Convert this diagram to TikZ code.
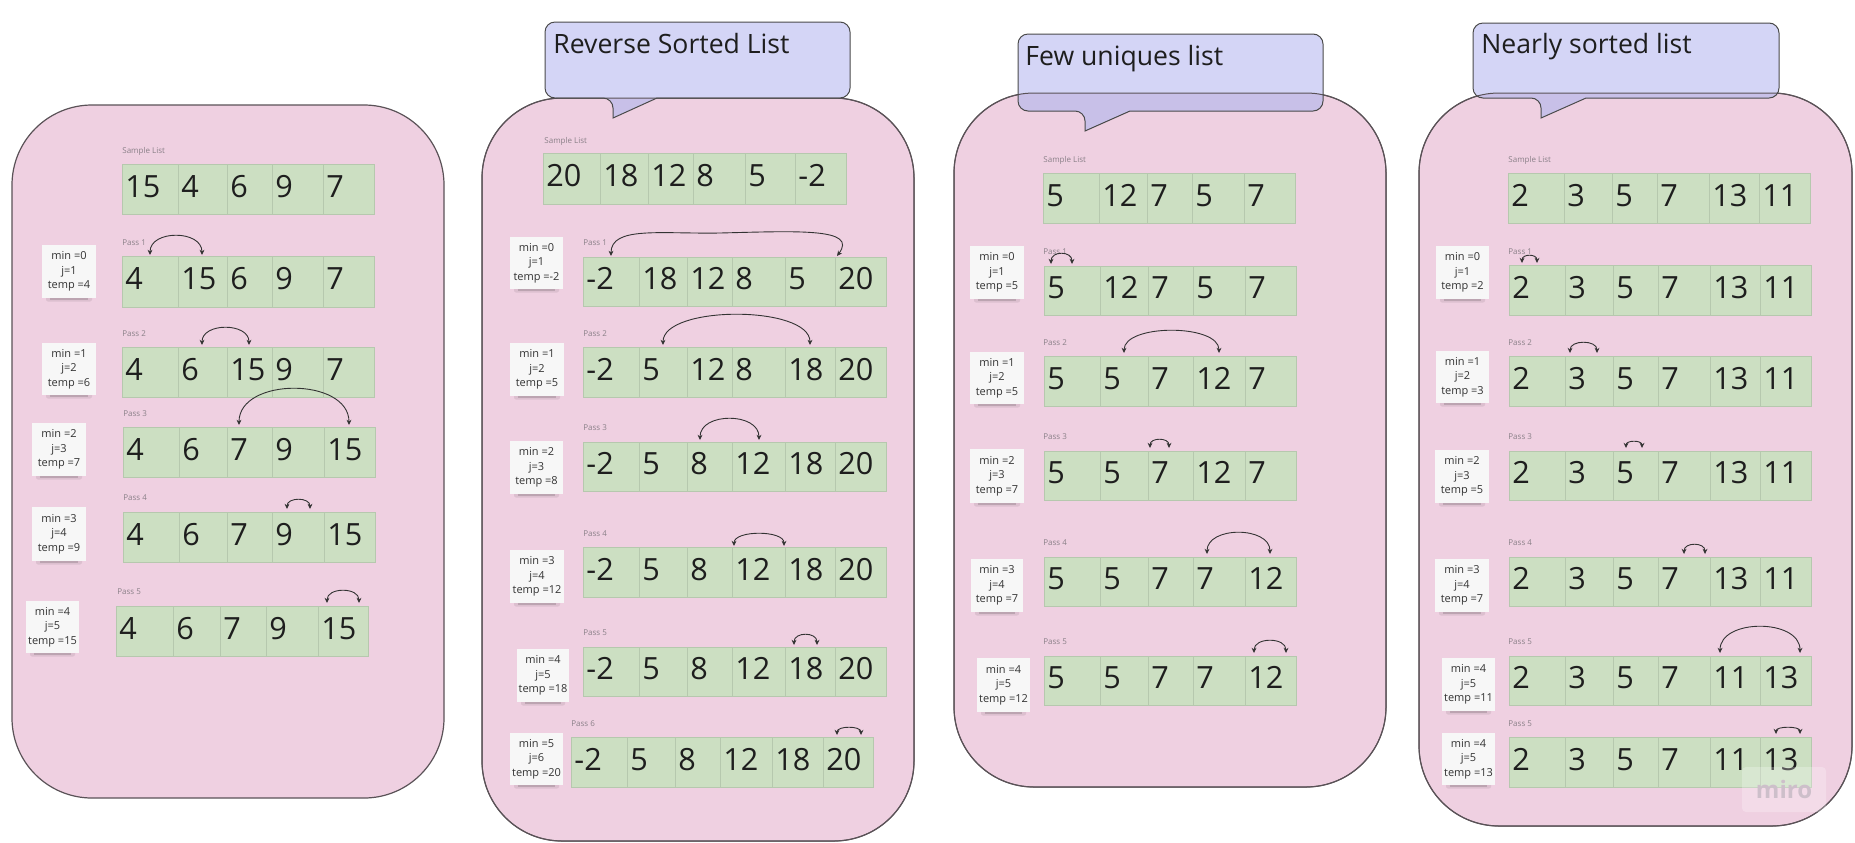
\documentclass[tikz,border=0pt]{standalone}
\usepackage{fontspec}
\setmainfont{Open Sans}
\usetikzlibrary{arrows.meta,calc}
\definecolor{panelpink}{HTML}{EFD0E1}
\definecolor{panelline}{HTML}{5A5257}
\definecolor{cellgreen}{HTML}{CCDFC2}
\definecolor{cellline}{HTML}{B6C8AE}
\definecolor{numtext}{HTML}{1E1E1E}
\definecolor{lblgray}{HTML}{8A8088}
\definecolor{stickybg}{HTML}{F7F7F7}
\definecolor{stickytext}{HTML}{333333}
\definecolor{arrowc}{HTML}{333333}
\definecolor{callfill}{HTML}{D4D5F6}
\definecolor{callover}{HTML}{C8C0E8}
\definecolor{callline}{HTML}{4A4A4A}
\definecolor{mirogray}{HTML}{CDBFCA}
\tikzset{
  panel/.style={fill=panelpink, draw=panelline, line width=0.6pt, rounded corners=40pt},
  panelborder/.style={draw=panelline, line width=0.5pt, rounded corners=40pt},
  cellbox/.style={fill=cellgreen, draw=cellline, line width=0.4pt},
  num/.style={anchor=base west, inner sep=0pt, font=\fontsize{15.3}{17}\selectfont, text=numtext},
  passlbl/.style={anchor=west, inner sep=0pt, font=\fontsize{4}{5}\selectfont, text=lblgray},
  stickytxt/.style={align=center, inner sep=0pt, font=\fontsize{5.5}{7.2}\selectfont, text=stickytext},
  swp/.style={<->, >={Stealth[length=2.6pt,width=2.4pt]}, draw=arrowc, line width=0.45pt},
  titletxt/.style={anchor=base west, inner sep=0pt, font=\fontsize{13.3}{15}\selectfont, text=numtext},
}
\newcommand\cellrow[4]{%
  \foreach \xa/\xb/\v [count=\i] in {#4}{%
    \path[cellbox] (\xa,#2) rectangle (\xb,#3);
    \node[num] (#1-\i) at (\xa+3,{(#2+#3)/2+8}) {\v};
  }}
\newcommand\passlabel[4]{\node[passlbl] (#1) at (#2,#3) {#4};}
\newcommand\stickynote[6]{%
  \fill[black,opacity=.08,rounded corners=1pt] (#2+4,#5-3) rectangle (#4-4,#5+3.5);
  \fill[black,opacity=.14] (#2+8,#5-1) rectangle (#4-8,#5+2);
  \fill[stickybg] (#2,#3) rectangle (#4,#5);
  \node[stickytxt] (#1) at ({(#2+#4)/2},{(#3+#5)/2}) {#6};}
\newcommand\swap[5]{%
  \coordinate (#1a) at (#2,#4); \coordinate (#1b) at (#3,#4);
  \draw[swp] (#1a) .. controls +(0,{-(#4-#5)*4/3}) and +(0,{-(#4-#5)*4/3}) .. (#1b);}
\newcommand\callout[8]{%
  \fill[callfill] (#6,#4) [rounded corners=5pt] -- (#3,#4) -- (#3,#2) -- (#1,#2) -- (#1,#4) -- (#5,#4) [sharp corners] -- (#5,#7) -- cycle;
  \begin{scope}
    \clip[rounded corners=40pt] #8;
    \fill[callover] (#6,#4) [rounded corners=5pt] -- (#3,#4) -- (#3,#2) -- (#1,#2) -- (#1,#4) -- (#5,#4) [sharp corners] -- (#5,#7) -- cycle;
  \end{scope}
  \path[panelborder] #8;
  \draw[callline, line width=0.5pt] (#6,#4) [rounded corners=5pt] -- (#3,#4) -- (#3,#2) -- (#1,#2) -- (#1,#4) -- (#5,#4) [sharp corners] -- (#5,#7) -- cycle;}
\begin{document}
\begin{tikzpicture}[x=0.5pt,y=-0.5pt]
\useasboundingbox[fill=white] (0,0) rectangle (1855,842);

% ---------------- Panel 1 ----------------
\path[panel] (12,105) rectangle (444,798);
\passlabel{p1sl}{122}{151}{Sample List}
\cellrow{p1s}{164}{214}{122/178/15,178/227/4,227/272/6,272/323/9,323/374/7}
\passlabel{p1l1}{122}{243}{Pass 1}
\cellrow{p1r1}{256}{307}{122/178/4,178/227/15,227/272/6,272/323/9,323/374/7}
\swap{p1w1}{150}{202}{255}{236}
\stickynote{p1n1}{42}{245}{96}{298}{min =0\\j=1\\temp =4}
\passlabel{p1l2}{122}{334}{Pass 2}
\cellrow{p1r2}{347}{397}{122/178/4,178/227/6,227/272/15,272/323/9,323/374/7}
\swap{p1w2}{202}{249}{345}{328}
\stickynote{p1n2}{42}{343}{96}{395}{min =1\\j=2\\temp =6}
\passlabel{p1l3}{123}{414}{Pass 3}
\cellrow{p1r3}{427}{477}{123/179/4,179/227/6,227/272/7,272/324/9,324/375/15}
\swap{p1w3}{239}{349}{425}{389}
\stickynote{p1n3}{32}{423}{86}{476}{min =2\\j=3\\temp =7}
\passlabel{p1l4}{123}{498}{Pass 4}
\cellrow{p1r4}{512}{562}{123/179/4,179/227/6,227/272/7,272/324/9,324/375/15}
\swap{p1w4}{287}{310}{509}{500}
\stickynote{p1n4}{32}{507}{86}{561}{min =3\\j=4\\temp =9}
\passlabel{p1l5}{117}{592}{Pass 5}
\cellrow{p1r5}{606}{656}{116/173/4,173/220/6,220/266/7,266/318/9,318/368/15}
\swap{p1w5}{327}{359}{603}{591}
\stickynote{p1n5}{26}{601}{79}{653}{min =4\\j=5\\temp =15}

% ---------------- Panel 2 ----------------
\path[panel] (482,98) rectangle (914,841);
\callout{545}{22}{850}{98}{613}{657}{118}{(482,98) rectangle (914,841)}
\node[titletxt] (t2) at (553,53) {Reverse Sorted List};
\passlabel{p2sl}{544}{141}{Sample List}
\cellrow{p2s}{153}{204}{543/600/20,600/648/18,648/693/12,693/745/8,745/795/5,795/846/-2}
\passlabel{p2l1}{583}{243}{Pass 1}
\cellrow{p2r1}{257}{306}{583/639/-2,639/687/18,687/732/12,732/785/8,785/835/5,835/886/20}
\coordinate (p2w1a) at (611,256); \coordinate (p2w1b) at (837,256);
\draw[swp] (p2w1a) .. controls (611,226) and (660,234) .. (720,233) .. controls (800,231) and (858,228) .. (p2w1b);
\stickynote{p2n1}{510}{237}{563}{289}{min =0\\j=1\\temp =-2}
\passlabel{p2l2}{583}{334}{Pass 2}
\cellrow{p2r2}{347}{397}{583/639/-2,639/687/5,687/732/12,732/785/8,785/835/18,835/886/20}
\swap{p2w2}{663}{810}{345}{315}
\stickynote{p2n2}{510}{343}{564}{396}{min =1\\j=2\\temp =5}
\passlabel{p2l3}{583}{428}{Pass 3}
\cellrow{p2r3}{442}{491}{583/639/-2,639/687/5,687/732/8,732/785/12,785/835/18,835/886/20}
\swap{p2w3}{700}{759}{440}{419}
\stickynote{p2n3}{510}{441}{563}{494}{min =2\\j=3\\temp =8}
\passlabel{p2l4}{583}{534}{Pass 4}
\cellrow{p2r4}{547}{597}{583/639/-2,639/687/5,687/732/8,732/785/12,785/835/18,835/886/20}
\swap{p2w4}{734}{784}{546}{534}
\stickynote{p2n4}{510}{550}{564}{603}{min =3\\j=4\\temp =12}
\passlabel{p2l5}{583}{633}{Pass 5}
\cellrow{p2r5}{647}{696}{583/639/-2,639/687/5,687/732/8,732/785/12,785/835/18,835/886/20}
\swap{p2w5}{794}{817}{645}{635}
\stickynote{p2n5}{517}{649}{569}{702}{min =4\\j=5\\temp =18}
\passlabel{p2l6}{571}{724}{Pass 6}
\cellrow{p2r6}{737}{787}{571/627/-2,627/675/5,675/720/8,720/772/12,772/823/18,823/873/20}
\swap{p2w6}{837}{861}{735}{728}
\stickynote{p2n6}{510}{733}{563}{785}{min =5\\j=6\\temp =20}

% ---------------- Panel 3 ----------------
\path[panel] (954,93) rectangle (1386,787);
\callout{1018}{34}{1323}{111}{1085}{1130}{131}{(954,93) rectangle (1386,787)}
\node[titletxt] (t3) at (1025,65) {Few uniques list};
\passlabel{p3sl}{1043}{160}{Sample List}
\cellrow{p3s}{173}{223}{1043/1099/5,1099/1147/12,1147/1192/7,1192/1244/5,1244/1295/7}
\passlabel{p3l1}{1043}{252}{Pass 1}
\cellrow{p3r1}{266}{315}{1044/1100/5,1100/1148/12,1148/1193/7,1193/1245/5,1245/1296/7}
\swap{p3w1}{1051}{1072}{264}{254}
\stickynote{p3n1}{970}{246}{1024}{299}{min =0\\j=1\\temp =5}
\passlabel{p3l2}{1043}{343}{Pass 2}
\cellrow{p3r2}{356}{406}{1044/1100/5,1100/1148/5,1148/1193/7,1193/1245/12,1245/1296/7}
\swap{p3w2}{1124}{1219}{353}{331}
\stickynote{p3n2}{970}{352}{1024}{404}{min =1\\j=2\\temp =5}
\passlabel{p3l3}{1043}{437}{Pass 3}
\cellrow{p3r3}{451}{500}{1044/1100/5,1100/1148/5,1148/1193/7,1193/1245/12,1245/1296/7}
\swap{p3w3}{1150}{1169}{448}{440}
\stickynote{p3n3}{970}{449}{1024}{503}{min =2\\j=3\\temp =7}
\passlabel{p3l4}{1043}{543}{Pass 4}
\cellrow{p3r4}{557}{606}{1044/1100/5,1100/1148/5,1148/1193/7,1193/1245/7,1245/1296/12}
\swap{p3w4}{1207}{1270}{554}{533}
\stickynote{p3n4}{971}{559}{1023}{612}{min =3\\j=4\\temp =7}
\passlabel{p3l5}{1043}{642}{Pass 5}
\cellrow{p3r5}{656}{705}{1044/1100/5,1100/1148/5,1148/1193/7,1193/1245/7,1245/1296/12}
\swap{p3w5}{1254}{1286}{653}{641}
\stickynote{p3n5}{977}{658}{1030}{712}{min =4\\j=5\\temp =12}

% ---------------- Panel 4 ----------------
\path[panel] (1419,93) rectangle (1852,826);
\callout{1473}{23}{1779}{98}{1541}{1586}{118}{(1419,93) rectangle (1852,826)}
\node[titletxt] (t4) at (1481,53) {Nearly sorted list};
\passlabel{p4sl}{1508}{160}{Sample List}
\cellrow{p4s}{173}{223}{1508/1564/2,1564/1612/3,1612/1657/5,1657/1709/7,1709/1759/13,1759/1810/11}
\passlabel{p4l1}{1508}{252}{Pass 1}
\cellrow{p4r1}{265}{315}{1509/1565/2,1565/1613/3,1613/1658/5,1658/1710/7,1710/1760/13,1760/1811/11}
\swap{p4w1}{1522}{1537}{263}{256}
\stickynote{p4n1}{1436}{246}{1489}{299}{min =0\\j=1\\temp =2}
\passlabel{p4l2}{1508}{343}{Pass 2}
\cellrow{p4r2}{356}{406}{1509/1565/2,1565/1613/3,1613/1658/5,1658/1710/7,1710/1760/13,1760/1811/11}
\swap{p4w2}{1570}{1597}{353}{343}
\stickynote{p4n2}{1436}{351}{1489}{403}{min =1\\j=2\\temp =3}
\passlabel{p4l3}{1508}{437}{Pass 3}
\cellrow{p4r3}{451}{500}{1509/1565/2,1565/1613/3,1613/1658/5,1658/1710/7,1710/1760/13,1760/1811/11}
\swap{p4w3}{1626}{1642}{448}{442}
\stickynote{p4n3}{1435}{450}{1489}{503}{min =2\\j=3\\temp =5}
\passlabel{p4l4}{1508}{543}{Pass 4}
\cellrow{p4r4}{557}{606}{1509/1565/2,1565/1613/3,1613/1658/5,1658/1710/7,1710/1760/13,1760/1811/11}
\swap{p4w4}{1684}{1705}{554}{545}
\stickynote{p4n4}{1435}{559}{1489}{612}{min =3\\j=4\\temp =7}
\passlabel{p4l5}{1508}{642}{Pass 5}
\cellrow{p4r5}{656}{705}{1509/1565/2,1565/1613/3,1613/1658/5,1658/1710/7,1710/1760/11,1760/1811/13}
\swap{p4w5}{1720}{1800}{653}{627}
\stickynote{p4n5}{1442}{658}{1495}{711}{min =4\\j=5\\temp =11}
\passlabel{p4l6}{1508}{724}{Pass 5}
\cellrow{p4r6}{737}{787}{1509/1565/2,1565/1613/3,1613/1658/5,1658/1710/7,1710/1760/11,1760/1811/13}
\swap{p4w6}{1776}{1800}{734}{728}
\stickynote{p4n6}{1442}{733}{1495}{785}{min =4\\j=5\\temp =13}

% watermark
\fill[white,opacity=.25,rounded corners=2pt] (1742,767) rectangle (1826,812);
\node[inner sep=0pt, text=mirogray, font=\fontsize{12}{14}\selectfont\bfseries] (miro) at (1784,789) {miro};
\end{tikzpicture}
\end{document}
